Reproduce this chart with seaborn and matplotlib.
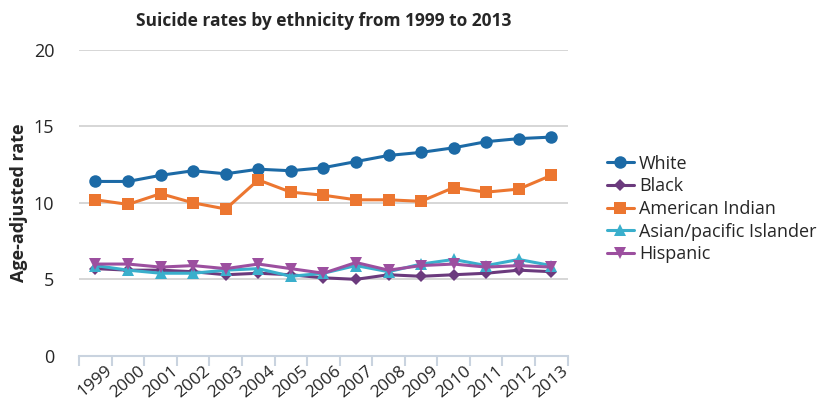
import matplotlib
matplotlib.use("Agg")
import matplotlib.pyplot as plt
import seaborn as sns
import pandas as pd
import numpy as np
from matplotlib.ticker import FixedLocator

years = list(range(1999, 2014))
white = [11.4, 11.4, 11.8, 12.1, 11.9, 12.2, 12.1, 12.3, 12.7, 13.1, 13.3, 13.6, 14.0, 14.2, 14.3]
black = [5.7, 5.6, 5.6, 5.5, 5.3, 5.4, 5.3, 5.1, 5.0, 5.3, 5.2, 5.3, 5.4, 5.6, 5.5]
american_indian = [10.2, 9.9, 10.6, 10.0, 9.6, 11.5, 10.7, 10.5, 10.2, 10.2, 10.1, 11.0, 10.7, 10.9, 11.8]
asian_pi = [5.9, 5.6, 5.4, 5.4, 5.6, 5.7, 5.2, 5.4, 5.9, 5.5, 6.0, 6.3, 5.9, 6.3, 5.9]
hispanic = [6.0, 6.0, 5.8, 5.9, 5.7, 6.0, 5.7, 5.4, 6.1, 5.6, 5.9, 6.0, 5.8, 5.9, 5.8]

series_names = ["White", "Black", "American Indian", "Asian/pacific Islander", "Hispanic"]
series_vals = [white, black, american_indian, asian_pi, hispanic]
colors = ["#1c6aa6", "#6b3a7d", "#ec7630", "#3aafcc", "#9c4f9f"]
markers = ["o", "D", "s", "^", "v"]
msizes = [9, 6, 9, 8, 8]

rows = []
for name, vals in zip(series_names, series_vals):
    for y, v in zip(years, vals):
        rows.append({"Year": y, "Rate": v, "Ethnicity": name})
df = pd.DataFrame(rows)

sns.set_style("white")
plt.rcParams["font.family"] = ["Open Sans", "DejaVu Sans"]

fig = plt.figure(figsize=(8.25, 4.09), dpi=100)
ax = fig.add_axes([0.096, 0.130, 0.592, 0.748])

for i, name in enumerate(series_names):
    sub = df[df["Ethnicity"] == name]
    sns.lineplot(data=sub, x="Year", y="Rate", ax=ax, color=colors[i],
                 marker=markers[i], markersize=msizes[i], markeredgewidth=0,
                 linewidth=2.2, label=name, clip_on=False, zorder=3 + i)

ax.set_xlim(1998.5, 2013.5)
ax.set_ylim(0, 20)
ax.set_yticks([0, 5, 10, 15, 20])
ax.yaxis.grid(True, color="#cfcfcf", linewidth=1.2)
ax.xaxis.grid(False)
for s in ["top", "right", "left"]:
    ax.spines[s].set_visible(False)
ax.spines["bottom"].set_color("#c9d3df")
ax.spines["bottom"].set_linewidth(1.5)

ax.set_xticks(years)
ax.set_xticklabels([str(y) for y in years], rotation=40, ha="center", fontsize=12.5)
ax.tick_params(axis="x", which="major", length=0, pad=5)
ax.xaxis.set_minor_locator(FixedLocator(np.arange(1998.5, 2014.0, 1.0)))
ax.tick_params(axis="x", which="minor", length=7, width=1.5, color="#c9d3df", bottom=True)
ax.tick_params(axis="y", length=0, labelsize=13, pad=18)

ax.set_xlabel("")
ax.set_ylabel("Age-adjusted rate", fontsize=13, fontweight="bold", labelpad=4)
ax.set_title("Suicide rates by ethnicity from 1999 to 2013", fontsize=12.5,
             fontweight="bold", pad=17)

leg = ax.legend(loc="center left", bbox_to_anchor=(1.065, 0.48), frameon=False,
                fontsize=13, handlelength=1.5, handletextpad=0.3, labelspacing=0.26,
                borderaxespad=0)

fig.savefig("out.png", dpi=100)
